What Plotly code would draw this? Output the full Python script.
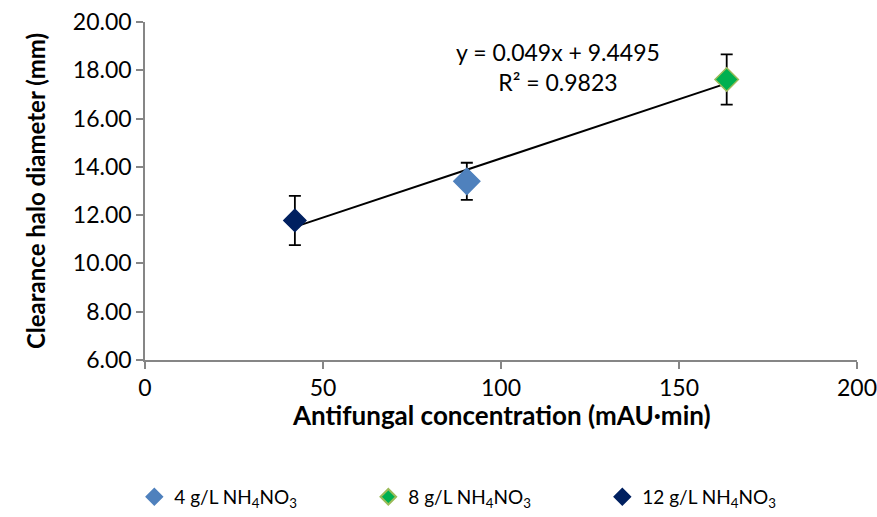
import numpy as np
import plotly.graph_objects as go

# Series: antifungal concentration vs clearance halo diameter
series_names = ["4 g/L NH<sub>4</sub>NO<sub>3</sub>",
                "8 g/L NH<sub>4</sub>NO<sub>3</sub>",
                "12 g/L NH<sub>4</sub>NO<sub>3</sub>"]
concentration = [90.4, 163.4, 42.1]      # mAU·min
halo_diameter = [13.40, 17.62, 11.78]    # mm
halo_error = [0.77, 1.04, 1.02]          # mm
fill_colors = ["#4F81BD", "#00B050", "#002060"]
line_colors = ["#4F81BD", "#9BBB59", "#002060"]
marker_sizes = [20, 18, 17]

# Linear trendline
slope = 0.049
intercept = 9.4495
r_squared = 0.9823

x_ticks = [0, 50, 100, 150, 200]
y_ticks = [6, 8, 10, 12, 14, 16, 18, 20]

FONT = "Lato, Carlito, Calibri, sans-serif"

fig = go.Figure()

x_fit = np.array([min(concentration), max(concentration)])
fig.add_trace(go.Scatter(
    x=x_fit, y=slope * x_fit + intercept, mode="lines",
    line=dict(color="black", width=2), showlegend=False, hoverinfo="skip"))

for name, x, y, e, fc, lc, ms in zip(series_names, concentration, halo_diameter,
                                     halo_error, fill_colors, line_colors, marker_sizes):
    fig.add_trace(go.Scatter(
        x=[x], y=[y], mode="markers", name=name,
        marker=dict(symbol="diamond", size=ms, color=fc, line=dict(color=lc, width=1.5)),
        error_y=dict(type="data", array=[e], color="black", thickness=1.8, width=6),
    ))

# Trendline equation
fig.add_annotation(
    x=116, y=18.15, xref="x", yref="y", showarrow=False, align="center",
    text=f"y = {slope}x + {intercept}<br>R² = {r_squared}",
    font=dict(family=FONT, size=23, color="black"))

# X-axis title placed just under the tick labels
fig.add_annotation(
    x=0.5, y=-0.162, xref="paper", yref="paper", showarrow=False,
    xanchor="center", yanchor="middle",
    text="<b>Antifungal concentration (mAU·min)</b>",
    font=dict(family=FONT, size=26, color="black"))

axis_common = dict(
    showgrid=False, zeroline=False, showline=True, linecolor="#868686", linewidth=1.5,
    ticks="outside", ticklen=7, tickcolor="#868686", tickwidth=1.5, automargin=False,
    ticklabeloverflow="allow",
    tickfont=dict(family=FONT, size=23, color="black"),
)

fig.update_layout(
    width=877, height=517,
    margin=dict(l=145, r=20, t=22, b=157, autoexpand=False),
    paper_bgcolor="white", plot_bgcolor="white",
    font=dict(family=FONT, color="black"),
    xaxis=dict(range=[0, 200], tickvals=x_ticks, ticktext=[str(v) for v in x_ticks],
               **axis_common),
    yaxis=dict(range=[6, 20], tickvals=y_ticks, ticktext=[f"{v:.2f}" for v in y_ticks],
               title=dict(text="<b>Clearance halo diameter (mm)</b>",
                          font=dict(family=FONT, size=24), standoff=20),
               **axis_common),
    legend=dict(orientation="h", x=-0.015, xanchor="left", y=-0.405, yanchor="middle",
                font=dict(family=FONT, size=19), entrywidth=189, entrywidthmode="pixels",
                itemsizing="constant", bgcolor="rgba(0,0,0,0)"),
)

fig.write_html("out.html")
